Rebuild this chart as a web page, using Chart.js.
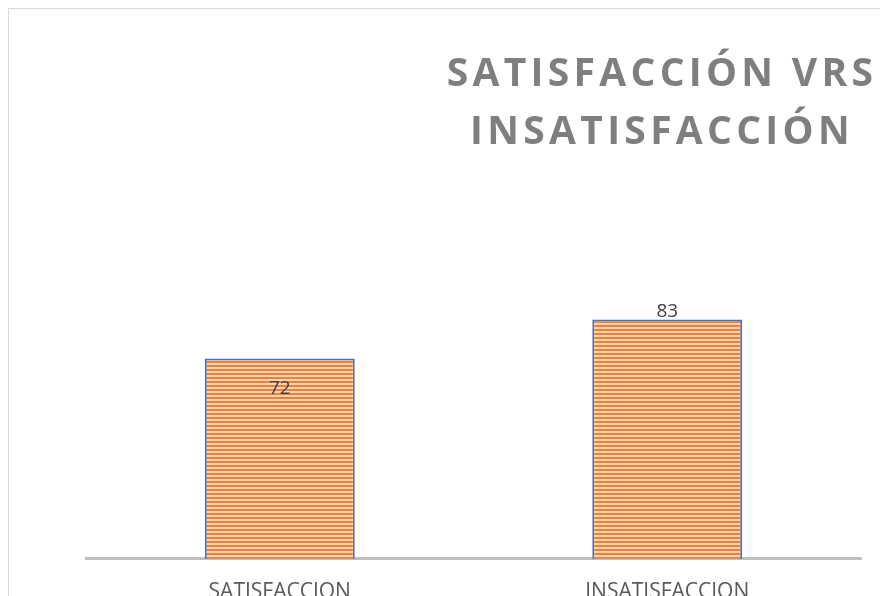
<!DOCTYPE html>
<html>
<head>
<meta charset="utf-8">
<script src="https://cdn.jsdelivr.net/npm/chart.js@4.4.1/dist/chart.umd.min.js"></script>
<style>
  html, body { margin: 0; padding: 0; background: #fff; overflow: hidden; width: 880px; height: 596px; }
  #frame { position: absolute; left: 8px; top: 8px; width: 1306px; height: 640px; border: 1px solid #d9d9d9; }
  #frame canvas { display: block; }
</style>
</head>
<body>
<div id="frame"><canvas id="chart" width="1306" height="640"></canvas></div>
<script>
const categories = ['SATISFACCION', 'INSATISFACCION'];
const values = [72, 83];
const titleLines = ['SATISFACCIÓN VRS', 'INSATISFACCIÓN'];

// horizontal stripe fill like the excel pattern
function stripes(ctx) {
  const c = document.createElement('canvas');
  c.width = 8; c.height = 4;
  const g = c.getContext('2d');
  g.fillStyle = '#fbd4b7';
  g.fillRect(0, 0, 8, 4);
  g.fillStyle = '#ee8033';
  g.fillRect(0, 0, 8, 2);
  return ctx.createPattern(c, 'repeat');
}

const valueLabels = {
  id: 'valueLabels',
  afterDatasetsDraw(chart, args, opts) {
    const ctx = chart.ctx;
    const meta = chart.getDatasetMeta(0);
    ctx.save();
    ctx.font = '19px "Open Sans"';
    ctx.fillStyle = '#404040';
    ctx.textAlign = 'center';
    ctx.textBaseline = 'middle';
    meta.data.forEach((bar, i) => {
      const y = opts.placement[i] === 'inside' ? bar.y + 30 : bar.y - 8;
      ctx.fillText(String(values[i]), bar.x, y);
    });
    ctx.restore();
  }
};

// letter spacing on the title only
const titleSpacing = {
  id: 'titleSpacing',
  afterLayout(chart, args, opts) {
    const tb = chart.titleBlock;
    if (!tb || tb._spaced) return;
    const draw = tb.draw.bind(tb);
    tb.draw = function (area) {
      const c = this.ctx;
      c.save();
      c.letterSpacing = opts.spacing;
      draw(area);
      c.restore();
    };
    tb._spaced = true;
  }
};

const canvas = document.getElementById('chart');

// empty side axes keep the plot where it sits in the excel chart
const spacer = (w) => ({
  display: true,
  grid: { display: false },
  border: { display: false },
  ticks: { display: false },
  afterFit(s) { s.width = w; }
});

new Chart(canvas, {
  type: 'bar',
  data: {
    labels: categories,
    datasets: [{
      data: values,
      backgroundColor: stripes(canvas.getContext('2d')),
      borderColor: '#4472c4',
      borderWidth: 2,
      borderSkipped: false,
      barPercentage: 1,
      categoryPercentage: 0.387
    }]
  },
  plugins: [valueLabels, titleSpacing],
  options: {
    responsive: false,
    animation: false,
    devicePixelRatio: 1,
    events: [],
    layout: { padding: { left: 0, right: 0, top: 0, bottom: 23 } },
    plugins: {
      legend: { display: false },
      tooltip: { enabled: false },
      titleSpacing: { spacing: '4.3px' },
      valueLabels: { placement: ['inside', 'outside'] },
      title: {
        display: true,
        text: titleLines,
        color: '#7f7f7f',
        font: { family: '"Open Sans"', size: 39, weight: 'bold', lineHeight: '58px' },
        padding: { top: 37, bottom: 17 }
      }
    },
    scales: {
      x: {
        grid: { display: false, drawTicks: false },
        border: { display: true, color: '#bfbfbf', width: 3 },
        ticks: { color: '#595959', font: { family: '"Open Sans"', size: 21 }, padding: 21 }
      },
      y: Object.assign(spacer(77), { min: 15.31, max: 122.77 }),
      yRight: Object.assign(spacer(454), { position: 'right' })
    }
  }
});
</script>
</body>
</html>
